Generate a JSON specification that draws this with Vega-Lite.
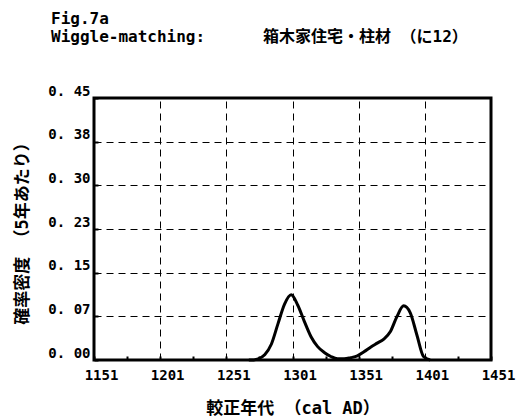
{
  "$schema": "https://vega.github.io/schema/vega-lite/v6.json",
  "autosize": {"type": "none"},
  "padding": {"left": 94, "top": 98, "right": 27, "bottom": 59},
  "width": 397,
  "height": 262,
  "background": "white",
  "title": {
    "text": ["Fig.7a", "Wiggle-matching:\u00a0\u00a0\u00a0\u00a0\u00a0\u00a0箱木家住宅・柱材\u00a0（に12）"],
    "font": "'DejaVu Sans Mono', 'Noto Sans CJK JP'",
    "fontSize": 16,
    "fontWeight": "bold",
    "color": "black",
    "anchor": "start",
    "frame": "group",
    "dx": -43,
    "lineHeight": 18,
    "offset": 39
  },
  "config": {
    "view": {"stroke": "black", "strokeWidth": 3},
    "axis": {
      "labelFont": "'DejaVu Sans Mono'",
      "labelFontSize": 14,
      "labelFontWeight": "bold",
      "labelColor": "black",
      "titleFont": "'DejaVu Sans Mono', 'Noto Sans CJK JP'",
      "titleFontSize": 17,
      "titleFontWeight": "bold",
      "titleColor": "black",
      "domain": false,
      "tickColor": "black",
      "gridColor": "black",
      "gridOpacity": 1,
      "gridDash": [7, 5],
      "gridWidth": 1
    }
  },
  "data": {
    "values": [
      {"year": 1268, "p": 0},
      {"year": 1270, "p": 0},
      {"year": 1275, "p": 0.002},
      {"year": 1280, "p": 0.009},
      {"year": 1285, "p": 0.027},
      {"year": 1290, "p": 0.062},
      {"year": 1295, "p": 0.096},
      {"year": 1300, "p": 0.112},
      {"year": 1305, "p": 0.094},
      {"year": 1310, "p": 0.066},
      {"year": 1315, "p": 0.04},
      {"year": 1320, "p": 0.023},
      {"year": 1325, "p": 0.013},
      {"year": 1330, "p": 0.006},
      {"year": 1335, "p": 0.002},
      {"year": 1340, "p": 0.002},
      {"year": 1345, "p": 0.004},
      {"year": 1350, "p": 0.007},
      {"year": 1355, "p": 0.014},
      {"year": 1360, "p": 0.022},
      {"year": 1365, "p": 0.029},
      {"year": 1370, "p": 0.036},
      {"year": 1375, "p": 0.049},
      {"year": 1380, "p": 0.075},
      {"year": 1385, "p": 0.093},
      {"year": 1390, "p": 0.081},
      {"year": 1395, "p": 0.043},
      {"year": 1400, "p": 0.006},
      {"year": 1405, "p": 0}
    ]
  },
  "layer": [
    {
      "mark": {"type": "point", "opacity": 0},
      "encoding": {
        "x": {
          "field": "year", "type": "quantitative",
          "scale": {"domain": [1151, 1451], "nice": false, "zero": false},
          "axis": {"orient": "top", "values": [1151, 1201, 1251, 1301, 1351, 1401, 1451], "grid": true, "labels": false, "ticks": false, "domain": false, "title": null}
        },
        "y": {
          "field": "p", "type": "quantitative",
          "scale": {"domain": [0, 0.45], "nice": false},
          "axis": {
            "values": [0, 0.075, 0.15, 0.225, 0.3, 0.375, 0.45],
            "labelExpr": "replace(format(datum.value, '.2f'), '.', '. ')",
            "grid": true,
            "tickSize": -4, "tickWidth": 2,
            "labelBaseline": "middle", "labelOffset": -7, "labelPadding": 8,
            "title": "確率密度\u00a0（5年あたり）",
            "titlePadding": 16
          }
        }
      }
    },
    {
      "mark": {"type": "line", "color": "black", "strokeWidth": 3, "interpolate": "monotone"},
      "encoding": {
        "x": {
          "field": "year", "type": "quantitative",
          "axis": {
            "orient": "bottom",
            "values": [1151, 1176, 1201, 1226, 1251, 1276, 1301, 1326, 1351, 1376, 1401, 1426, 1451],
            "labelExpr": "(datum.value - 1151) % 50 == 0 ? datum.value : ''",
            "grid": false,
            "tickSize": -4, "tickWidth": 2,
            "labelOffset": 7, "labelPadding": 12, "labelFlush": false, "labelOverlap": false,
            "title": "較正年代\u00a0（cal AD）",
            "titlePadding": 18
          }
        },
        "y": {"field": "p", "type": "quantitative"}
      }
    }
  ],
  "resolve": {"axis": {"x": "independent"}}
}
